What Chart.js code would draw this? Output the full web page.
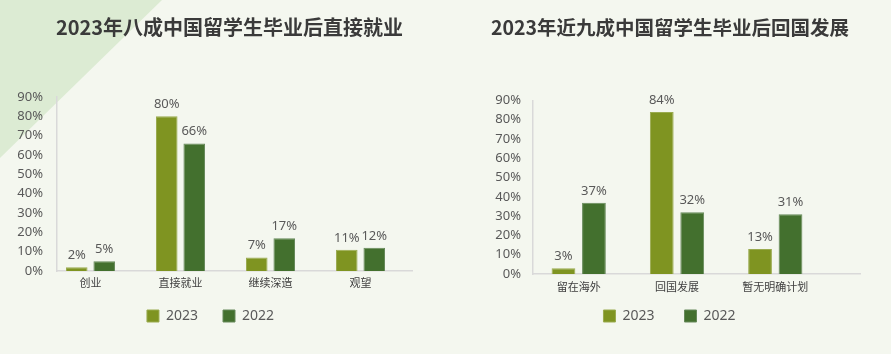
<!DOCTYPE html>
<html>
<head>
<meta charset="utf-8">
<script src="https://cdn.jsdelivr.net/npm/chart.js@4.4.1/dist/chart.umd.min.js"></script>
<style>
    html, body { margin: 0; padding: 0; }
    body { width: 891px; height: 354px; background: #f4f7ef; position: relative; overflow: hidden; }
    .corner { position: absolute; left: 0; top: 0; width: 170px; height: 170px; background: #dcebd3; clip-path: polygon(0 0, 162px 0, 0 158px); }
    .panel { position: absolute; top: 0; height: 354px; }
    #left-panel { left: 0; width: 450px; }
    #right-panel { left: 450px; width: 441px; }
</style>
</head>
<body>
<div class="corner"></div>
<div class="panel" id="left-panel"><canvas id="leftChart"></canvas></div>
<div class="panel" id="right-panel"><canvas id="rightChart"></canvas></div>
<script>
// chart data
const seriesNames = ['2023', '2022'];

const leftTitle = '2023年八成中国留学生毕业后直接就业';
const leftCategories = ['创业', '直接就业', '继续深造', '观望'];
const left2023 = [2, 80, 7, 11];
const left2022 = [5, 66, 17, 12];

const rightTitle = '2023年近九成中国留学生毕业后回国发展';
const rightCategories = ['留在海外', '回国发展', '暂无明确计划'];
const right2023 = [3, 84, 13];
const right2022 = [37, 32, 31];

const yMax = 90;
const yStep = 10;

const colors = ['#7f9421', '#43702e'];
const edgeColors = ['#9aab4f', '#66895a'];
const textColor = '#595959';
const sansFont = "'Noto Sans', 'Noto Sans CJK SC', sans-serif";
const cjkFont = "'Noto Sans CJK SC', 'Noto Sans', sans-serif";

/**
 * Draws the percentage above every bar
 */
const valueLabels = {
    id: 'valueLabels',
    afterDatasetsDraw(chart) {
        const ctx = chart.ctx;
        ctx.save();
        ctx.font = '13px ' + sansFont;
        ctx.fillStyle = textColor;
        ctx.textAlign = 'center';
        ctx.textBaseline = 'alphabetic';
        chart.data.datasets.forEach((ds, i) => {
            chart.getDatasetMeta(i).data.forEach((bar, j) => {
                ctx.fillText(ds.data[j].y + '%', bar.x, bar.y - 8);
            });
        });
        ctx.restore();
    }
};

/**
 * Moves title and legend a little after layout
 */
const nudge = {
    id: 'nudge',
    afterLayout(chart, args, opts) {
        const move = (box, dx, dy) => {
            if (!box) return;
            box.left += dx; box.right += dx;
            box.top += dy; box.bottom += dy;
        };
        move(chart.titleBlock, opts.titleDx || 0, 0);
        move(chart.legend, opts.legendDx || 0, opts.legendDy || 0);
    }
};

function makeChart(canvasId, cfg) {
    const ctx = document.getElementById(canvasId).getContext('2d');
    const series = [cfg.s2023, cfg.s2022];

    return new Chart(ctx, {
        type: 'bar',
        data: {
            datasets: series.map((values, i) => ({
                label: seriesNames[i],
                data: values.map((v, k) => ({ x: k, y: v })),
                backgroundColor: colors[i],
                borderColor: edgeColors[i],
                borderWidth: 1,
                categoryPercentage: cfg.catPct,
                barPercentage: cfg.barPct
            }))
        },
        options: {
            responsive: true,
            maintainAspectRatio: false,
            animation: false,
            layout: { padding: { right: cfg.padRight } },
            scales: {
                x: {
                    type: 'linear',
                    offset: false,
                    min: cfg.xMin,
                    max: cfg.xMax,
                    grid: { display: false, drawTicks: false, offset: false },
                    border: { display: true, color: '#d9d9d9', width: 1.5 },
                    afterBuildTicks: (scale) => {
                        scale.ticks = cfg.categories.map((c, k) => ({ value: k }));
                    },
                    afterFit: (scale) => { scale.height = cfg.xHeight; },
                    ticks: {
                        autoSkip: false,
                        maxRotation: 0,
                        padding: cfg.xPad,
                        color: '#404040',
                        font: { size: 11, family: cjkFont },
                        callback: (v) => cfg.categories[v]
                    }
                },
                y: {
                    min: 0,
                    max: yMax,
                    grid: { display: false, drawTicks: false },
                    border: { display: true, color: '#d9d9d9', width: 1.5 },
                    afterFit: (scale) => { scale.width = cfg.yWidth; },
                    ticks: {
                        stepSize: yStep,
                        autoSkip: false,
                        padding: cfg.yPad,
                        color: textColor,
                        font: { size: 13, family: sansFont },
                        callback: (v) => v + '%'
                    }
                }
            },
            plugins: {
                title: {
                    display: true,
                    text: cfg.title,
                    color: '#3a3a3a',
                    font: { size: cfg.titleSize, weight: 'bold', family: cjkFont },
                    padding: { top: cfg.titleTop, bottom: cfg.titleBottom }
                },
                legend: {
                    position: 'bottom',
                    labels: {
                        boxWidth: 12,
                        boxHeight: 12,
                        padding: cfg.legendGap,
                        color: textColor,
                        font: { size: 14, family: sansFont }
                    }
                },
                tooltip: { enabled: false },
                nudge: { titleDx: cfg.titleDx, legendDx: cfg.legendDx, legendDy: cfg.legendDy }
            }
        },
        plugins: [valueLabels, nudge]
    });
}

makeChart('leftChart', {
    title: leftTitle,
    titleSize: 20,
    categories: leftCategories,
    s2023: left2023,
    s2022: left2022,
    catPct: 0.61,
    barPct: 0.785,
    xMin: -0.372,
    xMax: 3.572,
    padRight: 38,
    xHeight: 34,
    xPad: 5,
    yWidth: 57,
    yPad: 14,
    titleTop: 15,
    titleBottom: 58,
    titleDx: 23.5,
    legendGap: 25,
    legendDx: 4.5,
    legendDy: -21
});

makeChart('rightChart', {
    title: rightTitle,
    titleSize: 19.5,
    categories: rightCategories,
    s2023: right2023,
    s2022: right2022,
    catPct: 0.62,
    barPct: 0.78,
    xMin: -0.465,
    xMax: 2.862,
    padRight: 31,
    xHeight: 26,
    xPad: 6,
    yWidth: 83,
    yPad: 12,
    titleTop: 16,
    titleBottom: 61,
    titleDx: 15,
    legendGap: 30,
    legendDx: 14.5,
    legendDy: -21
});
</script>
</body>
</html>
